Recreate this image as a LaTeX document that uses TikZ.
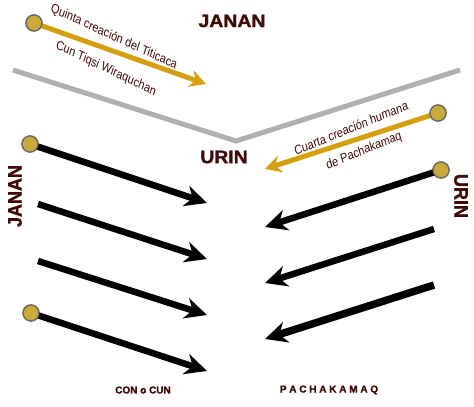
\documentclass[tikz,border=0pt]{standalone}
\usepackage{fontspec}
\setmainfont{Liberation Sans}
\newfontfamily\heavyfont[FakeBold=1.6]{Liberation Sans Bold}
\usetikzlibrary{arrows.meta}
\definecolor{maroon}{RGB}{64,10,10}
\definecolor{goldarrow}{RGB}{212,160,16}
\definecolor{dotfill}{RGB}{202,170,60}
\definecolor{dotline}{RGB}{110,105,90}
\definecolor{barcol}{RGB}{176,176,176}
\tikzset{
  dot/.style={circle,fill=dotfill,draw=dotline,line width=1.3pt,minimum size=16pt,inner sep=0pt},
  blackarrow/.style={line width=6.5pt,black,-{Stealth[length=22pt,width=21pt,inset=7pt]}},
  goldarr/.style={line width=5pt,goldarrow,-{Stealth[length=16pt,width=17pt,inset=5pt]}},
  bigword/.style={font=\heavyfont\fontsize{18}{18}\selectfont,text=maroon,xscale=1.08,inner sep=0pt},
  smallword/.style={font=\heavyfont\fontsize{10}{10}\selectfont,text=maroon,inner sep=0pt},
  caption/.style={font=\fontsize{13}{13}\selectfont,text=maroon,xscale=0.84,inner sep=0pt},
  bar/.style={line width=5pt,barcol}
}
\begin{document}
\begin{tikzpicture}[x=1pt,y=-1pt]
\useasboundingbox (0,0) rectangle (474,407);
% grey V
\coordinate (vl) at (13,70);
\coordinate (vm) at (236,141);
\coordinate (vr) at (460,70);
\draw[bar] (vl) -- (vm) -- (vr);
% labels
\node[bigword] (janantop) at (232,21) {JANAN};
\node[bigword] (urinmid) at (224,157) {URIN};
\node[bigword,rotate=90] (jananleft) at (15,196) {JANAN};
\node[bigword,rotate=-90] (urinright) at (461,196) {URIN};
\node[smallword] (con) at (143,390) {CON o CUN};
\node[smallword] (pacha) at (329,390) {P A C H A K A M A Q};
% gold arrows
\node[dot] (g1) at (34,23) {};
\coordinate (g1t) at (206,84);
\node[dot] (g2) at (438,113) {};
\coordinate (g2t) at (265,169);
\draw[goldarr] (g1.center) -- (g1t);
\draw[goldarr] (g2.center) -- (g2t);
\node[dot] at (g1) {};
\node[dot] at (g2) {};
\node[caption,rotate=-21] (q) at (114,37) {Quinta creación del Titicaca};
\node[caption,rotate=-22] (cun) at (106,69) {Cun Tiqsi Wiraquchan};
\node[caption,rotate=19] (cu) at (351,128) {Cuarta creación humana};
\node[caption,rotate=19] (de) at (364,151) {de Pachakamaq};
% black arrows left
\node[dot] (l1) at (30,144) {};
\coordinate (l1t) at (207,203);
\coordinate (l2) at (38,204);
\coordinate (l2t) at (207,259);
\coordinate (l3) at (38,261);
\coordinate (l3t) at (207,315);
\node[dot] (l4) at (31,313) {};
\coordinate (l4t) at (207,371);
\draw[blackarrow] (l1.center) -- (l1t);
\draw[blackarrow] (l2) -- (l2t);
\draw[blackarrow] (l3) -- (l3t);
\draw[blackarrow] (l4.center) -- (l4t);
\node[dot] at (l1) {};
\node[dot] at (l4) {};
% black arrows right
\node[dot] (r1) at (441,170) {};
\coordinate (r1t) at (265,227);
\coordinate (r2) at (434,229);
\coordinate (r2t) at (265,283);
\coordinate (r3) at (434,285);
\coordinate (r3t) at (265,339);
\draw[blackarrow] (r1.center) -- (r1t);
\draw[blackarrow] (r2) -- (r2t);
\draw[blackarrow,line width=7.5pt] (r3) -- (r3t);
\node[dot] at (r1) {};
\end{tikzpicture}
\end{document}
